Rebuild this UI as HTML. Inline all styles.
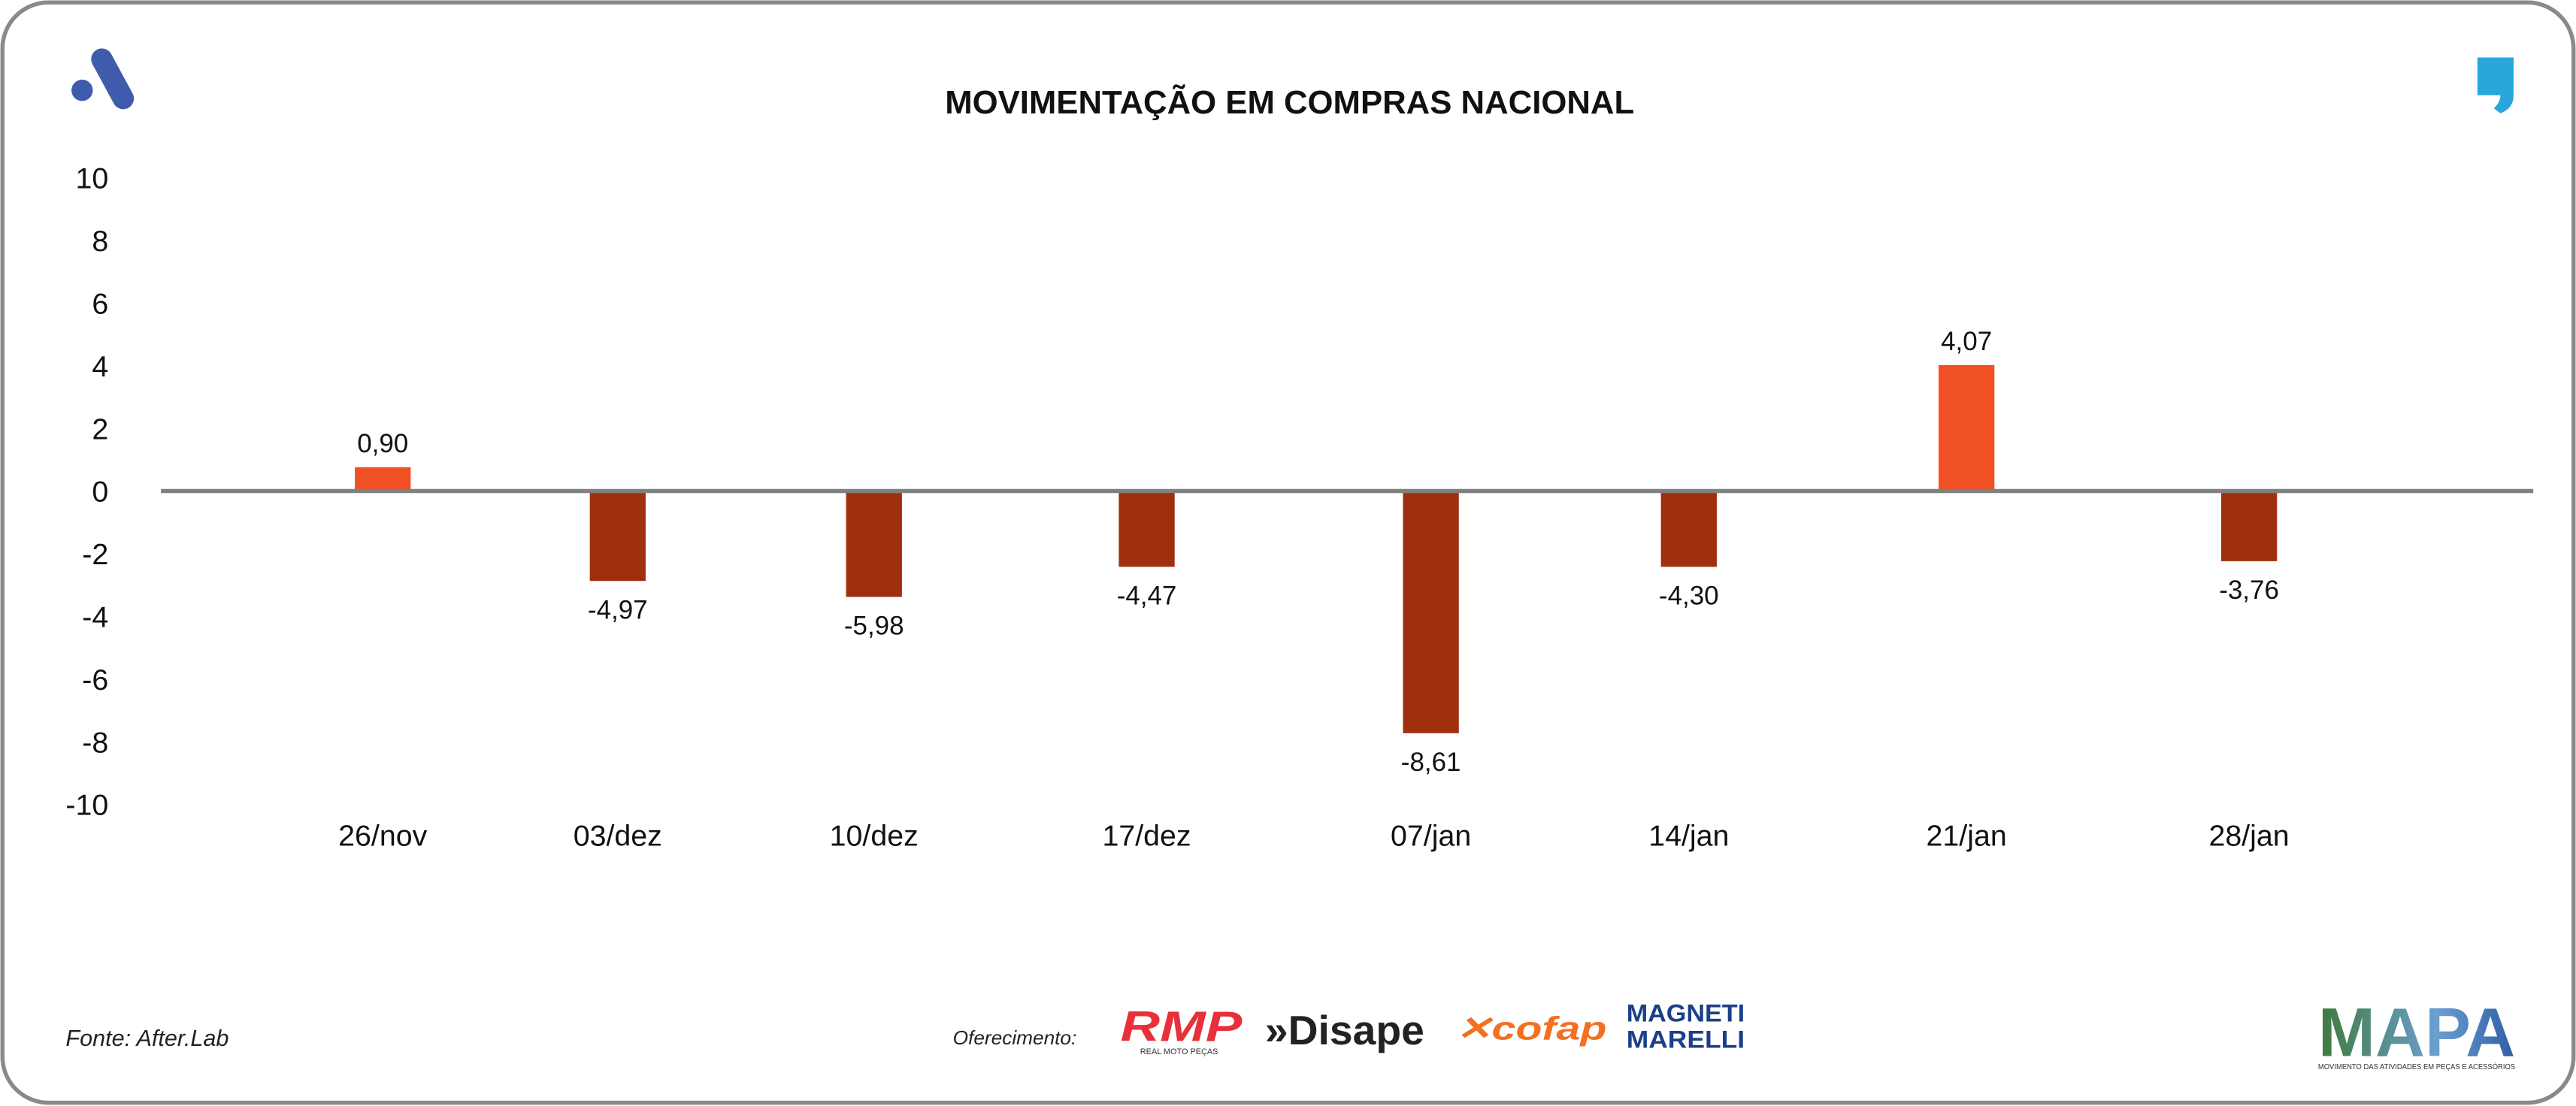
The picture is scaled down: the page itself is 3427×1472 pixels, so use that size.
<!DOCTYPE html>
<html><head><meta charset="utf-8"><style>
html,body{margin:0;padding:0;background:#fff;}
svg{display:block;}
text{font-family:"Liberation Sans",sans-serif;}
</style></head><body>
<svg id="chart" width="3427" height="1472" viewBox="0 0 1568 673.5" preserveAspectRatio="none" xmlns="http://www.w3.org/2000/svg">
<rect x="1.5" y="1.5" width="1565" height="670" rx="28" fill="#fff" stroke="#8a8a8a" stroke-width="2.5"/>
<g>
<line x1="62" y1="36" x2="75" y2="60" stroke="#3f5bab" stroke-width="13" stroke-linecap="round"/>
<circle cx="50" cy="55" r="6.5" fill="#3f5bab"/>
</g>
<g>
<path d="M1508 35 H1530 V58 Q1530 66 1522 69 L1518 66 Q1522 62 1522 58 H1508 Z" fill="#29a6dc"/>
</g>
<text x="785" y="69" text-anchor="middle" font-size="20" font-weight="bold" fill="#111">MOVIMENTAÇÃO EM COMPRAS NACIONAL</text>
<g id="yaxis"></g>
<g id="bars"></g>
<line x1="98" y1="299" x2="1542" y2="299" stroke="#808080" stroke-width="2.5"/>
<g id="xaxis"></g>
<text x="40" y="637" font-size="14" font-style="italic" fill="#222">Fonte: After.Lab</text>
<text x="580" y="636" font-size="12" font-style="italic" fill="#222">Oferecimento:</text>
<g>
<text x="682" y="634" font-size="26" font-weight="bold" font-style="italic" fill="#e8303a" textLength="74" lengthAdjust="spacingAndGlyphs">RMP</text>
<text x="694" y="642" font-size="5" fill="#333">REAL MOTO PEÇAS</text>
</g>
<g>
<text x="770" y="636" font-size="25" font-weight="bold" fill="#222" textLength="97" lengthAdjust="spacingAndGlyphs">»Disape</text>
</g>
<g>
<text x="886" y="633" font-size="20" font-weight="bold" font-style="italic" fill="#f37021" textLength="92" lengthAdjust="spacingAndGlyphs">✕cofap</text>
</g>
<g>
<text x="990" y="622" font-size="15" font-weight="bold" fill="#1c3f8a" textLength="72" lengthAdjust="spacingAndGlyphs">MAGNETI</text>
<text x="990" y="638" font-size="15" font-weight="bold" fill="#1c3f8a" textLength="72" lengthAdjust="spacingAndGlyphs">MARELLI</text>
</g>
<defs><linearGradient id="mg" x1="0" x2="1"><stop offset="0" stop-color="#3f7a3a"/><stop offset="0.6" stop-color="#6a9fd0"/><stop offset="1" stop-color="#2f5ea8"/></linearGradient></defs>
<g>
<text x="1411" y="643" font-size="42" font-weight="bold" fill="url(#mg)" textLength="120" lengthAdjust="spacingAndGlyphs">MAPA</text>
<text x="1411" y="651" font-size="4.5" fill="#333" textLength="120" lengthAdjust="spacingAndGlyphs">MOVIMENTO DAS ATIVIDADES EM PEÇAS E ACESSÓRIOS</text>
</g>
<script>
const categories = ["26/nov","03/dez","10/dez","17/dez","07/jan","14/jan","21/jan","28/jan"];
const barValues = [0.76,-2.87,-3.38,-2.42,-7.73,-2.42,4.02,-2.24];
const valueLabels = ["0,90","-4,97","-5,98","-4,47","-8,61","-4,30","4,07","-3,76"];
const yTicks = [10,8,6,4,2,0,-2,-4,-6,-8,-10];
const NS="http://www.w3.org/2000/svg";
const zeroY=299, unit=19.08;
function yScale(v){return zeroY - v*unit;}
const x0=155.5, step=(1369-233)/7;
function xScale(i){return 233 + i*((1369-233)/7) + [0,-0.3,-5.3,-1.6,8.9,3.4,9.4,0][i]*0;}
const centers=[233,376,532,698,871,1028,1197,1369];
function xPos(i){return centers[i]!==undefined?centers[i]:xScale(i);}
const ya=document.getElementById('yaxis');
yTicks.forEach(v=>{
  const t=document.createElementNS(NS,'text');
  
  
  t.setAttribute('x',66);t.setAttribute('y',yScale(v)+6.5);
  t.setAttribute('text-anchor','end');t.setAttribute('font-size','18');t.setAttribute('fill','#111');
  t.textContent=v;ya.appendChild(t);
});
const bg=document.getElementById('bars'), xa=document.getElementById('xaxis');
categories.forEach((c,i)=>{
  const v=barValues[i], cx=xPos(i);
  const r=document.createElementNS(NS,'rect');
  
  
  const top=Math.min(yScale(v),zeroY), h=Math.abs(yScale(v)-zeroY);
  r.setAttribute('x',cx-17);r.setAttribute('y',top);r.setAttribute('width',34);r.setAttribute('height',h);
  r.setAttribute('fill',v>=0?'#f15025':'#a02f10');
  bg.appendChild(r);
  const l=document.createElementNS(NS,'text');
  
  
  l.setAttribute('x',cx);l.setAttribute('y',v>=0?yScale(v)-9:yScale(v)+23);
  l.setAttribute('text-anchor','middle');l.setAttribute('font-size','16');l.setAttribute('fill','#111');
  l.textContent=valueLabels[i];bg.appendChild(l);
  const xl=document.createElementNS(NS,'text');
  
  
  xl.setAttribute('x',cx);xl.setAttribute('y',515);
  xl.setAttribute('text-anchor','middle');xl.setAttribute('font-size','18');xl.setAttribute('fill','#111');
  xl.textContent=c;xa.appendChild(xl);
});
</script>
</svg>
</body></html>
